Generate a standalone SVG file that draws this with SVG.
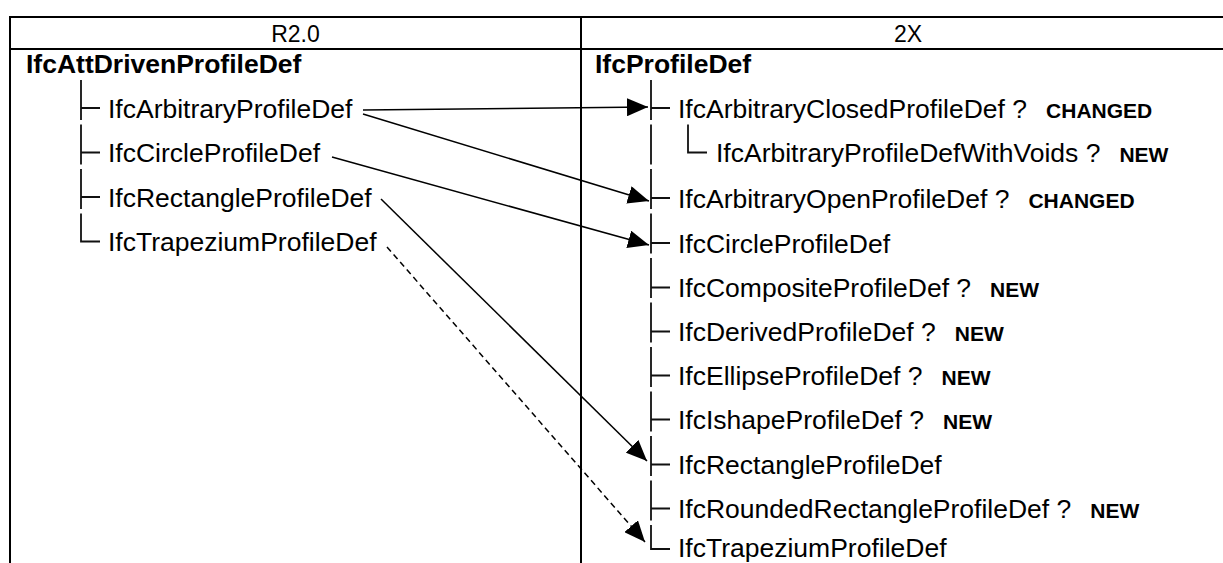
<svg xmlns="http://www.w3.org/2000/svg" width="1223" height="563" viewBox="0 0 1223 563">
  <style>
    text { font-family: "Liberation Sans", Arial, sans-serif; fill: #000; }
    .hd { font-size: 23px; text-anchor: middle; }
    .root { font-size: 26.5px; font-weight: bold; }
    .item { font-size: 26.5px; }
    .tag { font-size: 21px; font-weight: bold; }
    .grid { stroke: #000; stroke-width: 2; fill: none; }
    .tree { stroke: #111; stroke-width: 1.8; fill: none; }
    .link { stroke: #000; stroke-width: 1.5; fill: none; }
    .dashed { stroke-dasharray: 6 4; }
  </style>
  <defs>
    <marker id="arrow" viewBox="0 0 21 18" refX="21" refY="9" markerWidth="21" markerHeight="18" markerUnits="userSpaceOnUse" orient="auto">
      <path d="M0,0 L21,9 L0,18 Z" fill="#000"/>
    </marker>
  </defs>

  <!-- table frame -->
  <g id="table">
    <path class="grid" d="M10,17 H1223 M10,49 H1223 M10,16 V563 M581,16 V563"/>
    <text class="hd" x="295.5" y="41.5">R2.0</text>
    <text class="hd" x="908" y="41.5">2X</text>
  </g>

  <!-- R2.0 hierarchy -->
  <g id="r20-root"><text class="root" x="26" y="72.5">IfcAttDrivenProfileDef</text></g>
  <g id="r20-arbitrary">
    <path class="tree" d="M81,80 V120 M81,108 H100"/>
    <text class="item" x="108" y="117.5">IfcArbitraryProfileDef</text>
  </g>
  <g id="r20-circle">
    <path class="tree" d="M81,124.5 V164.5 M81,152.5 H100"/>
    <text class="item" x="108" y="162">IfcCircleProfileDef</text>
  </g>
  <g id="r20-rectangle">
    <path class="tree" d="M81,169 V209 M81,197 H100"/>
    <text class="item" x="108" y="206.5">IfcRectangleProfileDef</text>
  </g>
  <g id="r20-trapezium">
    <path class="tree" d="M81,213.5 V241.5 H100"/>
    <text class="item" x="108" y="251">IfcTrapeziumProfileDef</text>
  </g>

  <!-- 2X hierarchy -->
  <g id="x2-root"><text class="root" x="595" y="72.5">IfcProfileDef</text></g>
  <g id="x2-arbitrary-closed">
    <path class="tree" d="M651,80 V120 M651,108 H670"/>
    <text class="item" x="678" y="117.5">IfcArbitraryClosedProfileDef ?<tspan class="tag" dx="19">CHANGED</tspan></text>
  </g>
  <g id="x2-arbitrary-voids">
    <path class="tree" d="M651,124.5 V164.5 M688,124.5 V152.5 H707"/>
    <text class="item" x="716" y="162">IfcArbitraryProfileDefWithVoids ?<tspan class="tag" dx="19">NEW</tspan></text>
  </g>
  <g id="x2-arbitrary-open">
    <path class="tree" d="M651,169 V209 M651,198 H670"/>
    <text class="item" x="678" y="207.5">IfcArbitraryOpenProfileDef ?<tspan class="tag" dx="19">CHANGED</tspan></text>
  </g>
  <g id="x2-circle">
    <path class="tree" d="M651,213.5 V253.5 M651,243 H670"/>
    <text class="item" x="678" y="252.5">IfcCircleProfileDef</text>
  </g>
  <g id="x2-composite">
    <path class="tree" d="M651,258 V298 M651,287.5 H670"/>
    <text class="item" x="678" y="297">IfcCompositeProfileDef ?<tspan class="tag" dx="19">NEW</tspan></text>
  </g>
  <g id="x2-derived">
    <path class="tree" d="M651,302.5 V342.5 M651,331.5 H670"/>
    <text class="item" x="678" y="341">IfcDerivedProfileDef ?<tspan class="tag" dx="19">NEW</tspan></text>
  </g>
  <g id="x2-ellipse">
    <path class="tree" d="M651,347 V387 M651,375.5 H670"/>
    <text class="item" x="678" y="385">IfcEllipseProfileDef ?<tspan class="tag" dx="19">NEW</tspan></text>
  </g>
  <g id="x2-ishape">
    <path class="tree" d="M651,391.5 V431.5 M651,419.5 H670"/>
    <text class="item" x="678" y="429">IfcIshapeProfileDef ?<tspan class="tag" dx="19">NEW</tspan></text>
  </g>
  <g id="x2-rectangle">
    <path class="tree" d="M651,436 V476 M651,464.5 H670"/>
    <text class="item" x="678" y="474">IfcRectangleProfileDef</text>
  </g>
  <g id="x2-rounded-rectangle">
    <path class="tree" d="M651,480.5 V520.5 M651,508.5 H670"/>
    <text class="item" x="678" y="518">IfcRoundedRectangleProfileDef ?<tspan class="tag" dx="19">NEW</tspan></text>
  </g>
  <g id="x2-trapezium">
    <path class="tree" d="M651,525 V549 H670"/>
    <text class="item" x="678" y="557">IfcTrapeziumProfileDef</text>
  </g>

  <!-- mappings from R2.0 to 2X -->
  <g id="connectors">
    <line class="link" x1="363" y1="110" x2="648" y2="107" marker-end="url(#arrow)"/>
    <line class="link" x1="363" y1="114" x2="649" y2="201" marker-end="url(#arrow)"/>
    <line class="link" x1="332" y1="157" x2="649" y2="245" marker-end="url(#arrow)"/>
    <line class="link" x1="381" y1="199" x2="647" y2="461" marker-end="url(#arrow)"/>
    <line class="link dashed" x1="387" y1="247" x2="645" y2="542" marker-end="url(#arrow)"/>
  </g>
</svg>
